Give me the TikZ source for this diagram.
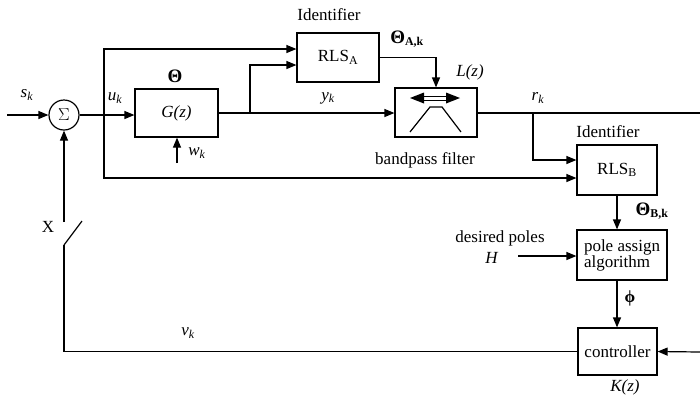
\documentclass[tikz,border=0pt]{standalone}
\usepackage{fontspec}
\setmainfont{Liberation Serif}
\usetikzlibrary{arrows.meta,calc}
\newcommand\lab[2]{\textit{#1}\textsubscript{\textit{#2}}}
\newcommand\bTheta{{\fontsize{19}{19}\selectfont\textbf{Θ}}}
\begin{document}
\begin{tikzpicture}[x=1pt,y=-1pt,
  font=\fontsize{17}{19}\selectfont,
  line width=1.2pt,
  >={Triangle[length=10pt,width=8pt]},
  blk/.style={draw,rectangle,inner sep=0pt,line width=1.2pt},
  txt/.style={inner sep=0pt}]
\useasboundingbox (0,0) rectangle (700,397);
% blocks
\node[blk,minimum width=83pt,minimum height=48pt] (G) at (176.5,113) {\textit{G(z)}};
\node[blk,minimum width=82pt,minimum height=49pt] (RA) at (338,57.5) {RLS\textsubscript{A}};
\node[blk,minimum width=82pt,minimum height=49pt] (F) at (436,112.5) {};
\node[blk,minimum width=80pt,minimum height=50pt] (RB) at (617,170) {RLS\textsubscript{B}};
\node[blk,minimum width=90pt,minimum height=50pt,align=left] (P) at (622,255) {pole assign\\[-3pt]algorithm};
\node[blk,minimum width=79pt,minimum height=47pt] (C) at (617.5,351.5) {controller};
\node[draw,circle,minimum size=30pt,inner sep=0pt] (S) at (64,115) {$\Sigma$};
% filter symbol
\draw[line width=1pt] (422,96) rectangle (448,100);
\fill (410,98) -- (424,92.5) -- (424,103.5) -- cycle;
\fill (460,98) -- (446,92.5) -- (446,103.5) -- cycle;
\draw[line width=1.2pt] (410,132) -- (430,107) -- (442,107) -- (461,132);
% coordinates
\coordinate (in) at (7,115);
\coordinate (bu) at (104,115);
\coordinate (by) at (250,113);
\coordinate (br) at (533,113);
\coordinate (out) at (700,113);
\coordinate (cin) at (700,352);
\coordinate (hin) at (518,256);
\coordinate (wk) at (177,163);
\coordinate (swlo) at (64,245);
\coordinate (swhi) at (64,222);
\coordinate (blade) at (82,221);
% connectors
\draw[->] (in) -- (S);
\draw[->] (S) -- (S -| G.west);
\draw[->] (bu) |- ($(RA.west)+(0,-8.5)$);
\draw[->] (bu) |- (RB.west |- 0,178);
\draw[->] (G.east |- by) -- (F.west |- by);
\draw[->] (by) |- ($(RA.west)+(0,7.5)$);
\draw[->] (RA.east) -| (F.north);
\draw (F.east |- out) -- (out);
\draw[->] (br) |- (RB.west |- 0,160);
\draw[->] (RB.south) -- (RB.south |- P.north);
\draw[->] (hin) -- (P.west |- hin);
\draw[->] (RB.south |- P.south) -- (RB.south |- C.north);
\draw[->] (cin) -- (C.east);
\draw (C.west) -- (swlo |- C.west) -- (swlo);
\draw (swlo) -- (blade);
\draw[->] (swhi) -- (S.south);
\draw[->] (wk) -- (G.south -| wk);
% labels
\node[txt] at (27,95) {\lab{s}{k}};
\node[txt] at (115,98) {\lab{u}{k}};
\node[txt] at (175,76) {\bTheta};
\node[txt] at (197,153) {\lab{w}{k}};
\node[txt] at (328,98) {\lab{y}{k}};
\node[txt] at (329,15) {Identifier};
\node[txt] at (407,39) {\bTheta\textsubscript{\textbf{A,k}}};
\node[txt] at (470,72) {\textit{L(z)}};
\node[txt] at (425,160) {bandpass filter};
\node[txt] at (538,98) {\lab{r}{k}};
\node[txt] at (608,132) {Identifier};
\node[txt] at (652,211) {\bTheta\textsubscript{\textbf{B,k}}};
\node[txt] at (500,238) {desired poles};
\node[txt] at (492,258) {\textit{H}};
\node[txt] at (630,298) {\textbf{ϕ}};
\node[txt] at (625,387) {\textit{K(z)}};
\node[txt] at (188,333) {\lab{v}{k}};
\node[txt] at (48,227) {X};
\end{tikzpicture}
\end{document}
